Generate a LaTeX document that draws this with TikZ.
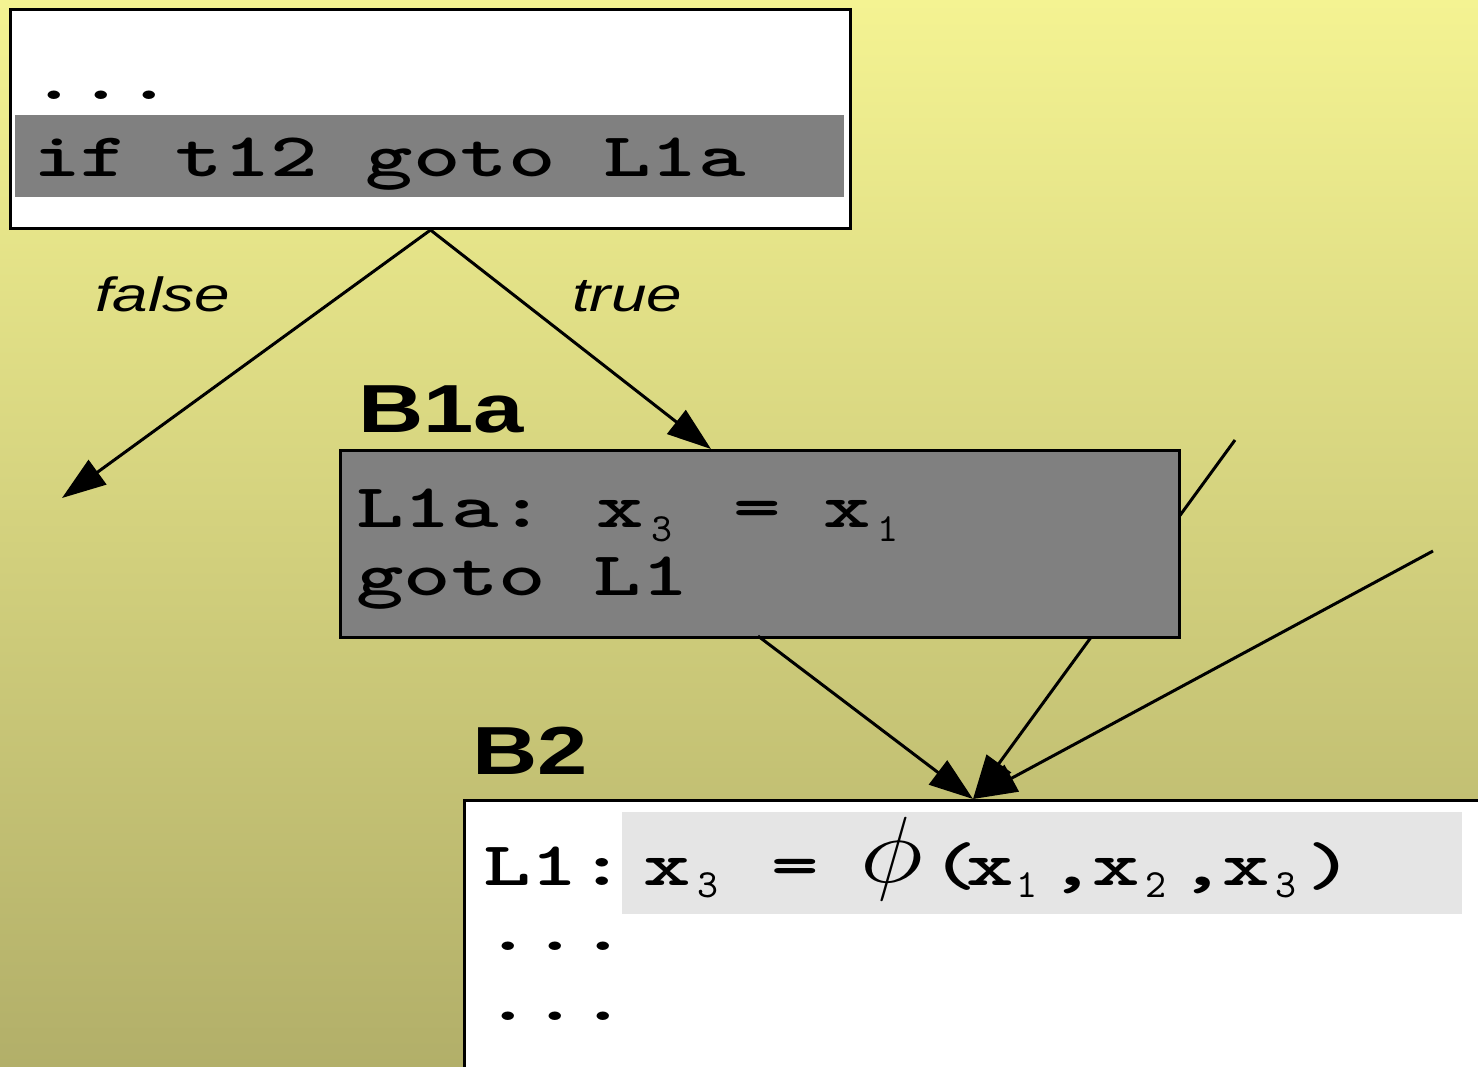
\RequirePackage{fix-cm}
\documentclass[tikz,border=0pt]{standalone}
\usepackage{fontspec}
\usetikzlibrary{arrows.meta}
\newfontfamily\monof{lmmonolt10-bold.otf}[FakeStretch=1.46]
\newfontfamily\subf{lmmono10-regular.otf}
\newfontfamily\labf[FakeStretch=1.33]{Liberation Sans}
\definecolor{bgtop}{RGB}{244,243,146}
\definecolor{bgbot}{RGB}{178,175,105}
\definecolor{band}{RGB}{128,128,128}
\definecolor{lband}{RGB}{229,229,229}
\tikzset{
  box/.style={draw=black, line width=3pt, anchor=north west, inner sep=0pt},
  code/.style={anchor=base west, inner sep=0pt, font=\monof\fontsize{62}{70}\selectfont},
  sub/.style={anchor=base west, inner sep=0pt, font=\subf\fontsize{40}{42}\selectfont},
  blabel/.style={anchor=base west, inner sep=0pt, font=\labf\bfseries\fontsize{68}{70}\selectfont},
  elabel/.style={anchor=base west, inner sep=0pt, font=\labf\itshape\fontsize{48}{50}\selectfont},
  edge/.style={line width=3pt, -{Triangle[length=44pt,width=30pt]}}
}
\begin{document}
\begin{tikzpicture}[x=1pt,y=-1pt]
\useasboundingbox (0,0) rectangle (1478,1067);
\clip (0,0) rectangle (1478,1067);
\shade[top color=bgtop, bottom color=bgbot] (0,0) rectangle (1478,1067);

\coordinate (farA) at (1235,440);
\coordinate (farB) at (1433,551);
\coordinate (falseend) at (62,498);
\coordinate (truetip) at (711,449);
\coordinate (b1out1) at (758,636);
\coordinate (b2in) at (973,799);

% line passing behind B1a
\draw[edge] (farA) -- (b2in);

% top block
\node[box, fill=white, minimum width=840pt, minimum height=219pt] (top) at (9,8) {};
\node[fill=band, anchor=north west, inner sep=0pt, minimum width=829pt, minimum height=82pt] (topband) at (15,115) {};
\node[code] (tdots) at (30,100) {...};
\node[code] (tif) at (33,177) {if t12 goto L1a};

% B1a block
\node[box, fill=band, minimum width=839pt, minimum height=187pt] (b1a) at (339,449) {};
\node[blabel] (lb1a) at (358,432) {B1a};
\node[code] (b1l1) at (356,527) {L1a:};
\node[code] (b1x3) at (596,527) {x};
\node[sub] (b1s3) at (651,541) {3};
\node[code] (b1eq) at (733,527) {=};
\node[code] (b1x1) at (823,527) {x};
\node[sub] (b1s1) at (877,541) {1};
\node[code] (b1l2) at (356,595) {goto L1};

% B2 block
\node[box, fill=white, minimum width=1040pt, minimum height=300pt] (b2) at (463,799) {};
\node[fill=lband, anchor=north west, inner sep=0pt, minimum width=840pt, minimum height=102pt] (b2band) at (622,812) {};
\node[blabel] (lb2) at (472,774) {B2};
\node[code] (b2l1) at (483,885) {L1:};
\node[code] (b2x3) at (643,885) {x};
\node[sub] (b2s3) at (697,897) {3};
\node[code] (b2eq) at (771,885) {=};
\node[anchor=base, inner sep=0pt, font=\fontsize{94}{96}\selectfont] (phi) at (892,882) {\scalebox{1.15}[1]{$\phi$}};
\node[code] (b2lp) at (930,885) {(};
\node[code] (b2xa) at (966,885) {x};
\node[sub] (b2sa) at (1016,897) {1};
\node[code] (b2ca) at (1048,885) {,};
\node[code] (b2xb) at (1092,885) {x};
\node[sub] (b2sb) at (1145,897) {2};
\node[code] (b2cb) at (1178,885) {,};
\node[code] (b2xc) at (1222,885) {x};
\node[sub] (b2sc) at (1275,897) {3};
\node[code] (b2rp) at (1306,885) {)};
\node[code] (b2d1) at (484,950) {...};
\node[code] (b2d2) at (484,1020) {...};

% edges
\draw[edge] (top.south) -- (falseend);
\draw[edge] (top.south) -- (truetip);
\draw[edge] (b1out1) -- (b2in);
\draw[edge] (farB) -- (b2in);
\node[elabel] (lfalse) at (95,312) {false};
\node[elabel] (ltrue) at (572,312) {true};
\end{tikzpicture}
\end{document}
